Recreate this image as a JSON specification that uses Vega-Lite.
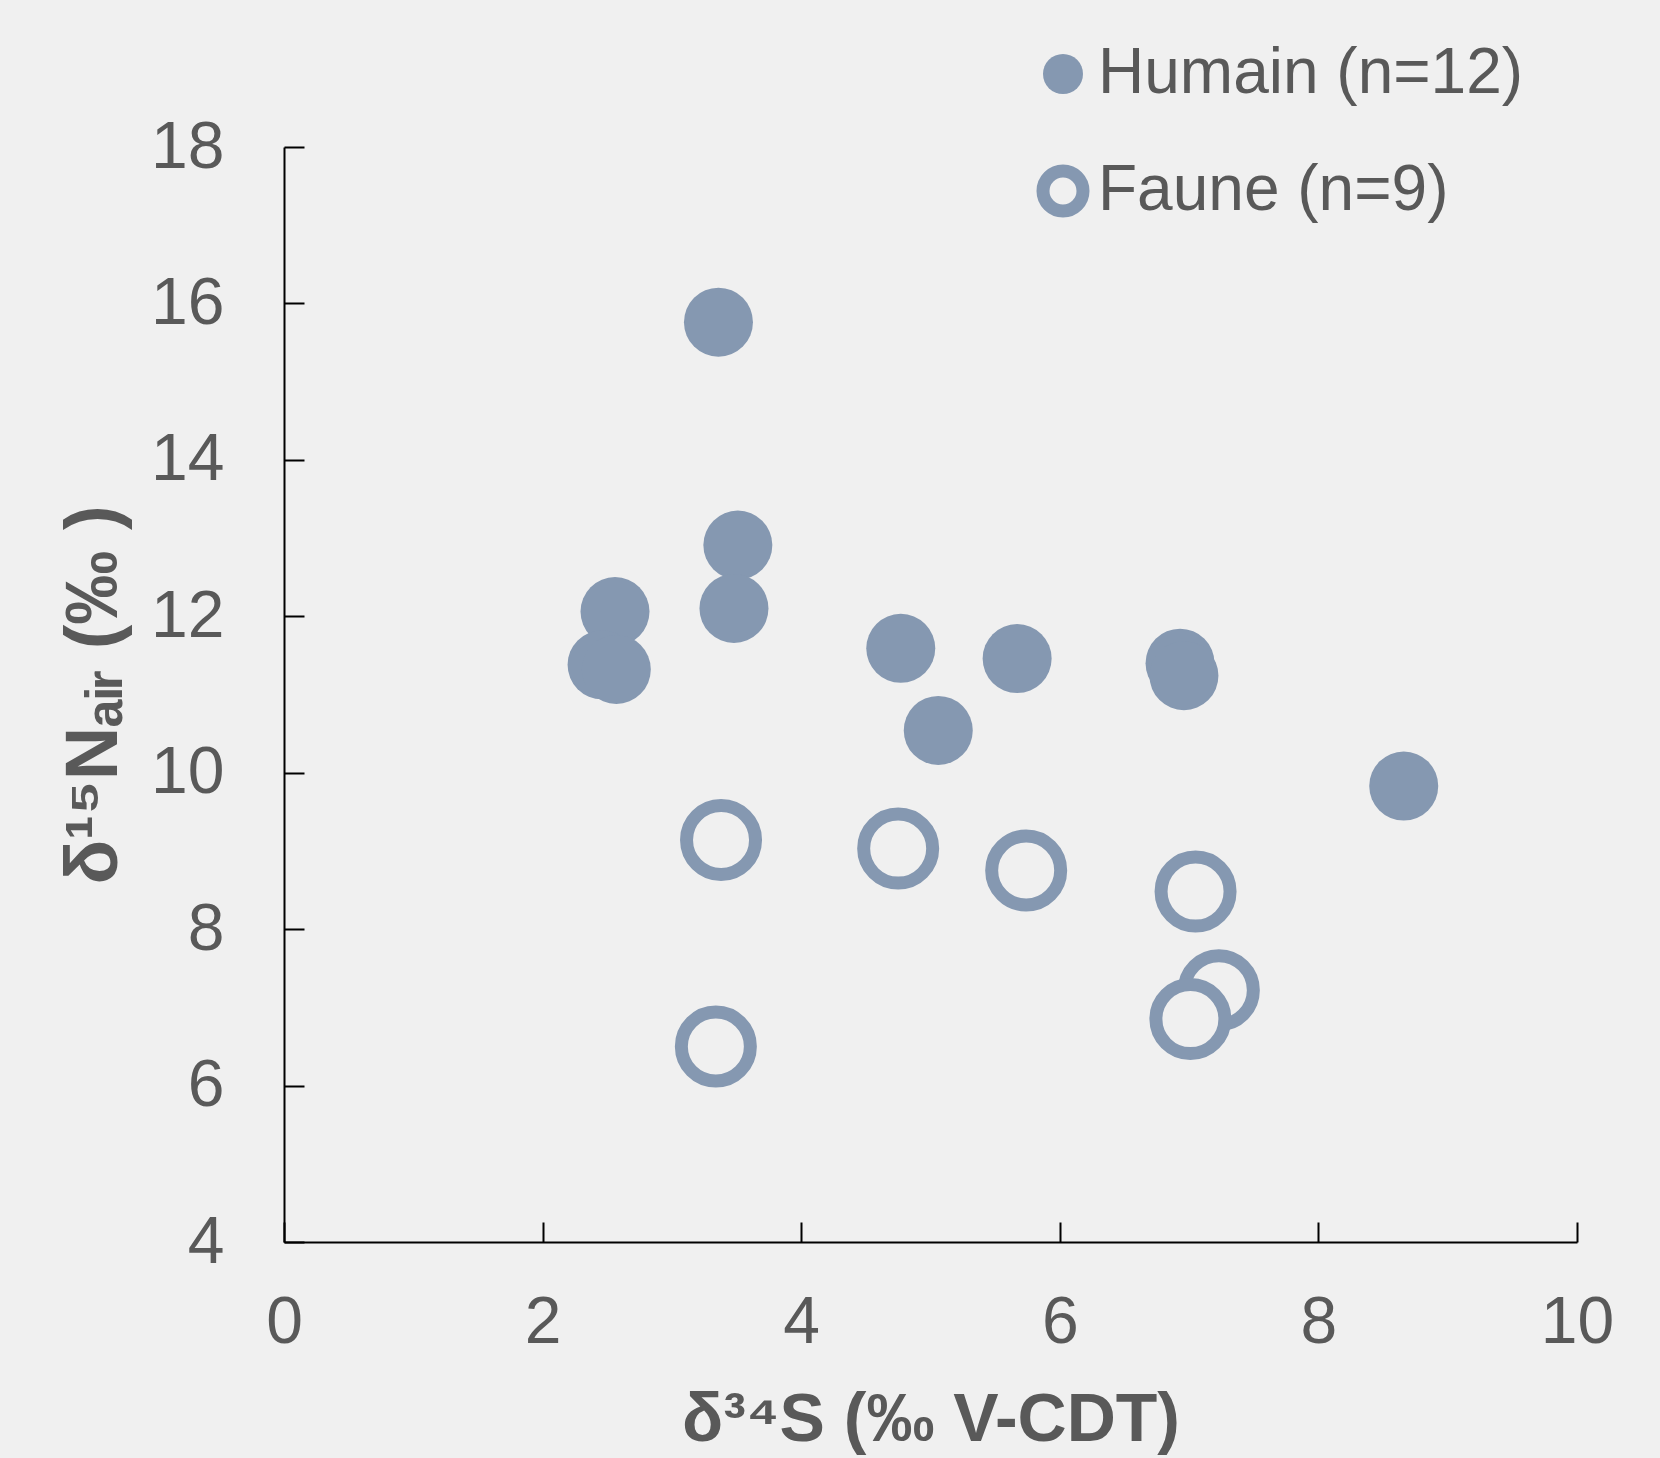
{
  "$schema": "https://vega.github.io/schema/vega-lite/v6.json",
  "width": 1293,
  "height": 1095,
  "autosize": {"type": "none"},
  "padding": {"left": 284, "top": 147, "right": 83, "bottom": 216},
  "background": "#F0F0F0",
  "config": {
    "view": {"stroke": null},
    "font": "Liberation Sans"
  },
  "data": {
    "values": [
      {"s34": 3.36, "n15": 15.76, "group": "Humain (n=12)"},
      {"s34": 3.51, "n15": 12.91, "group": "Humain (n=12)"},
      {"s34": 3.48, "n15": 12.10, "group": "Humain (n=12)"},
      {"s34": 2.56, "n15": 12.06, "group": "Humain (n=12)"},
      {"s34": 2.46, "n15": 11.38, "group": "Humain (n=12)"},
      {"s34": 2.57, "n15": 11.32, "group": "Humain (n=12)"},
      {"s34": 4.77, "n15": 11.59, "group": "Humain (n=12)"},
      {"s34": 5.67, "n15": 11.46, "group": "Humain (n=12)"},
      {"s34": 6.93, "n15": 11.40, "group": "Humain (n=12)"},
      {"s34": 6.96, "n15": 11.24, "group": "Humain (n=12)"},
      {"s34": 5.06, "n15": 10.54, "group": "Humain (n=12)"},
      {"s34": 8.66, "n15": 9.83, "group": "Humain (n=12)"},
      {"s34": 3.38, "n15": 9.14, "group": "Faune (n=9)"},
      {"s34": 4.75, "n15": 9.03, "group": "Faune (n=9)"},
      {"s34": 5.74, "n15": 8.75, "group": "Faune (n=9)"},
      {"s34": 7.05, "n15": 8.48, "group": "Faune (n=9)"},
      {"s34": 7.23, "n15": 7.22, "group": "Faune (n=9)"},
      {"s34": 7.01, "n15": 6.85, "group": "Faune (n=9)"},
      {"s34": 3.34, "n15": 6.50, "group": "Faune (n=9)"}
    ]
  },
  "mark": {"type": "point", "shape": "circle", "filled": true, "size": 4761, "stroke": "#8598B1", "opacity": 1},
  "encoding": {
    "x": {
      "field": "s34", "type": "quantitative",
      "scale": {"domain": [0, 10], "nice": false, "zero": false},
      "axis": {
        "values": [0, 2, 4, 6, 8, 10], "grid": false, "labelFlush": false,
        "title": "δ³⁴S (‰ V-CDT)",
        "titleFont": "Liberation Sans", "titleFontSize": 68, "titleFontWeight": "bold", "titleColor": "#595959", "titlePadding": 31,
        "labelFontSize": 66, "labelColor": "#595959", "labelPadding": 68, "labelFontWeight": "normal",
        "domainColor": "#000000", "domainWidth": 2, "tickColor": "#000000", "tickWidth": 2, "tickSize": -20
      }
    },
    "y": {
      "field": "n15", "type": "quantitative",
      "scale": {"domain": [4, 18], "nice": false, "zero": false},
      "axis": {
        "values": [4, 6, 8, 10, 12, 14, 16, 18], "grid": false, "labelFlush": false,
        "title": "δ¹⁵Nₐᵢᵣ (‰ )",
        "titleFont": "Liberation Sans", "titleFontSize": 74, "titleFontWeight": "bold", "titleColor": "#595959", "titlePadding": 18,
        "labelFontSize": 66, "labelColor": "#595959", "labelPadding": 80,
        "domainColor": "#000000", "domainWidth": 2, "tickColor": "#000000", "tickWidth": 2, "tickSize": -20
      }
    },
    "fill": {
      "field": "group", "type": "nominal",
      "scale": {"domain": ["Humain (n=12)", "Faune (n=9)"], "range": ["#8598B1", "#F0F0F0"]},
      "legend": {
        "title": null, "orient": "none", "legendX": 747, "legendY": -105,
        "labelFontSize": 64, "labelColor": "#595959", "labelOffset": 3, "labelLimit": 0,
        "symbolSize": 1600, "symbolStrokeColor": "#8598B1", "rowPadding": 39, "padding": 0,
        "symbolType": "circle"
      }
    },
    "strokeWidth": {
      "field": "group", "type": "nominal",
      "scale": {"type": "ordinal", "domain": ["Humain (n=12)", "Faune (n=9)"], "range": [0, 13]}
    }
  }
}
